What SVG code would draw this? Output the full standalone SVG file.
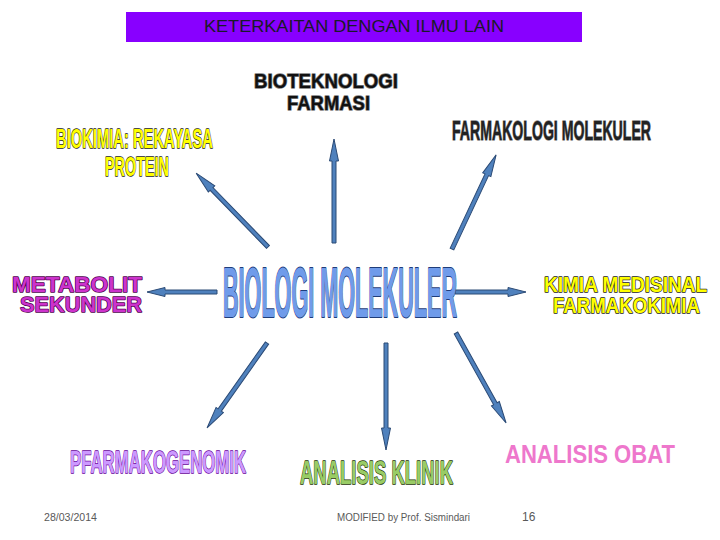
<svg xmlns="http://www.w3.org/2000/svg" width="720" height="540" viewBox="0 0 720 540">
<style>
.t{font-family:"Liberation Sans",Arial,sans-serif;font-weight:bold;paint-order:stroke;stroke-linejoin:round;}
.arr{fill:#4F81BD;stroke:#2B4A75;stroke-width:1;stroke-linejoin:miter;}
.foot{font-family:"Liberation Sans",Arial,sans-serif;fill:#595959;}
</style>
<rect width="720" height="540" fill="#ffffff"/>
<g id="title">
<rect x="126" y="12" width="456" height="30" fill="#8800FF"/>
<text x="354" y="32" text-anchor="middle" font-family="Liberation Sans,Arial,sans-serif" font-size="17" fill="#1a1a2a" textLength="300" lengthAdjust="spacingAndGlyphs">KETERKAITAN DENGAN ILMU LAIN</text>
</g>
<g id="connectors">
<polygon class="arr" transform="translate(268,247) rotate(-134.2)" points="0,-2 81,-2 81,-4.5 103,0 81,4.5 81,2 0,2"/>
<polygon class="arr" transform="translate(334,243) rotate(-90)" points="0,-2 82,-2 82,-4.5 104,0 82,4.5 82,2 0,2"/>
<polygon class="arr" transform="translate(452,249) rotate(-64.9)" points="0,-2 82,-2 82,-4.5 104,0 82,4.5 82,2 0,2"/>
<polygon class="arr" transform="translate(217,292) rotate(180)" points="0,-2 52,-2 52,-4.5 70,0 52,4.5 52,2 0,2"/>
<polygon class="arr" transform="translate(455,292)" points="0,-2 53,-2 53,-4.5 71,0 53,4.5 53,2 0,2"/>
<polygon class="arr" transform="translate(267,343) rotate(125.2)" points="0,-2 82,-2 82,-4.5 104,0 82,4.5 82,2 0,2"/>
<polygon class="arr" transform="translate(386,343) rotate(90)" points="0,-2 85,-2 85,-4.5 107,0 85,4.5 85,2 0,2"/>
<polygon class="arr" transform="translate(456,333) rotate(60.9)" points="0,-2 81,-2 81,-4.5 103,0 81,4.5 81,2 0,2"/>
</g>
<g id="biologi-molekuler">
<text class="t" x="223" y="317" font-size="70" fill="#6F9BEA" stroke="#1F3D7A" stroke-width="2" textLength="234" lengthAdjust="spacingAndGlyphs">BIOLOGI MOLEKULER</text>
</g>
<g id="bioteknologi">
<text class="t" x="254" y="88" font-size="21" fill="#111111" stroke="#808080" stroke-width="1.5" textLength="144" lengthAdjust="spacingAndGlyphs">BIOTEKNOLOGI</text>
<text class="t" x="287" y="110" font-size="21" fill="#111111" stroke="#808080" stroke-width="1.5" textLength="83" lengthAdjust="spacingAndGlyphs">FARMASI</text>
</g>
<g id="biokimia">
<text class="t" x="56" y="148" font-size="28" fill="#FFFF00" stroke="#222222" stroke-width="1.5" textLength="157" lengthAdjust="spacingAndGlyphs">BIOKIMIA: REKAYASA</text>
<text class="t" x="105" y="176" font-size="28" fill="#FFFF00" stroke="#222222" stroke-width="1.5" textLength="64" lengthAdjust="spacingAndGlyphs">PROTEIN</text>
</g>
<g id="farmakologi">
<text class="t" x="452" y="140" font-size="28" fill="#222222" stroke="#8a8a8a" stroke-width="1.5" textLength="199" lengthAdjust="spacingAndGlyphs">FARMAKOLOGI MOLEKULER</text>
</g>
<g id="metabolit">
<text class="t" x="12" y="292" font-size="22" fill="#CC33CC" stroke="#4D004D" stroke-width="1.5" textLength="130" lengthAdjust="spacingAndGlyphs">METABOLIT</text>
<text class="t" x="20" y="312" font-size="22" fill="#CC33CC" stroke="#4D004D" stroke-width="1.5" textLength="122" lengthAdjust="spacingAndGlyphs">SEKUNDER</text>
</g>
<g id="kimia-medisinal">
<text class="t" x="544" y="292" font-size="22" fill="#FFFF00" stroke="#222222" stroke-width="1.5" textLength="163" lengthAdjust="spacingAndGlyphs">KIMIA MEDISINAL</text>
<text class="t" x="553" y="313" font-size="22" fill="#FFFF00" stroke="#222222" stroke-width="1.5" textLength="147" lengthAdjust="spacingAndGlyphs">FARMAKOKIMIA</text>
</g>
<g id="pfarmakogenomik">
<text class="t" x="70" y="473" font-size="32" fill="#CC99FF" stroke="#660099" stroke-width="1.5" textLength="176" lengthAdjust="spacingAndGlyphs">PFARMAKOGENOMIK</text>
</g>
<g id="analisis-klinik">
<text class="t" x="300" y="484" font-size="33" fill="#99CC66" stroke="#1A3300" stroke-width="1.5" textLength="153" lengthAdjust="spacingAndGlyphs">ANALISIS KLINIK</text>
</g>
<g id="analisis-obat">
<text class="t" x="505" y="463" font-size="26" fill="#EE77CC" textLength="170" lengthAdjust="spacingAndGlyphs">ANALISIS OBAT</text>
</g>
<g id="footer">
<text class="foot" x="44" y="521" font-size="10" textLength="53" lengthAdjust="spacingAndGlyphs">28/03/2014</text>
<text class="foot" x="337" y="521" font-size="10" textLength="133" lengthAdjust="spacingAndGlyphs">MODIFIED by Prof. Sismindari</text>
<text class="foot" x="522" y="521" font-size="12">16</text>
</g>
</svg>
